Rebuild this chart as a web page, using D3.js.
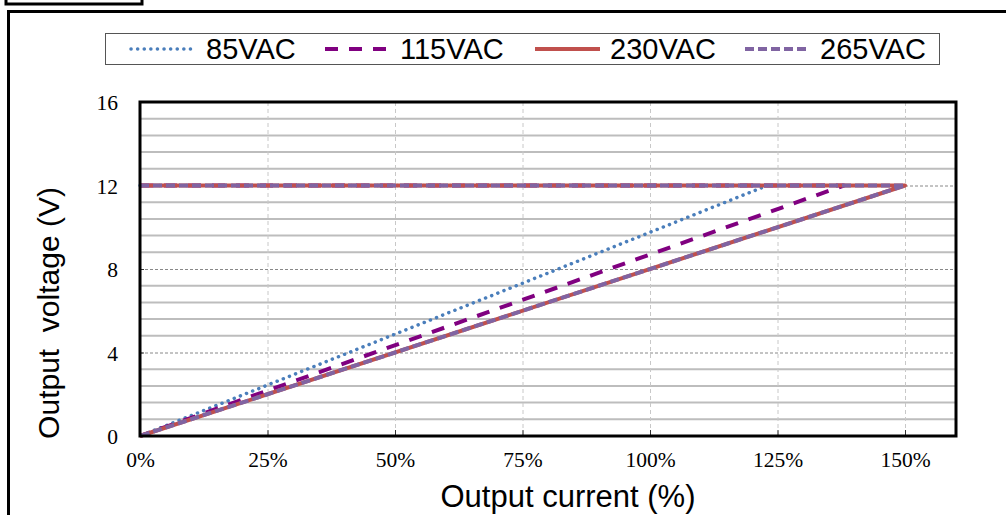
<!DOCTYPE html>
<html><head><meta charset="utf-8">
<script src="https://cdn.jsdelivr.net/npm/d3@7"></script>
<style>body{margin:0;background:#fff}svg{display:block}</style>
</head><body>
<svg id="c" width="1006" height="515"></svg>
<script>
// ---- data ----
const seriesNames = ["85VAC", "115VAC", "230VAC", "265VAC"];
// each curve: constant-voltage line at 12V, then foldback line down to (0%,0V)
const s85  = [[0, 12], [123, 12], [0, 0]];
const s115 = [[0, 12], [138, 12], [0, 0]];
const s230 = [[0, 12], [150, 12], [0, 0]];
const s265 = [[0, 12], [150, 12], [0, 0]];
const xTicks = [0, 25, 50, 75, 100, 125, 150];
const yTicks = [0, 4, 8, 12, 16];
const yMinor = [0.8, 1.6, 2.4, 3.2, 4.8, 5.6, 6.4, 7.2, 8.8, 9.6, 10.4, 11.2, 12.8, 13.6, 14.4, 15.2];

const series = [
  {name: seriesNames[0], data: s85,  color: "#4a7ebb", dash: "0.1 6.5", width: 3.5, cap: "round"},
  {name: seriesNames[1], data: s115, color: "#800080", dash: "13 11", width: 4, cap: "butt"},
  {name: seriesNames[2], data: s230, color: "#c0504d", dash: null, width: 4, cap: "butt"},
  {name: seriesNames[3], data: s265, color: "#8064a2", dash: "9 4", width: 4, cap: "butt"}
];

const svg = d3.select("#c");
// outer frames
svg.append("rect").attr("x", 6).attr("y", -10).attr("width", 136).attr("height", 14)
  .attr("fill", "none").attr("stroke", "#000").attr("stroke-width", 3);
svg.append("path").attr("d", "M8.5,520 V11.5 H1010").attr("fill", "none")
  .attr("stroke", "#000").attr("stroke-width", 3);

const L = 140, R = 956, T = 102, B = 436;
const x = d3.scaleLinear().domain([0, 160]).range([L, L + 160 * 5.1]);
const y = d3.scaleLinear().domain([0, 16]).range([B, T]);

const g = svg.append("g");
// minor gridlines
g.selectAll("line.minor").data(yMinor).join("line")
  .attr("x1", L).attr("x2", R).attr("y1", d => y(d)).attr("y2", d => y(d))
  .attr("stroke", "#bdbdbd").attr("stroke-width", 2);
// major horizontal gridlines
g.selectAll("line.maj").data(yTicks.slice(1, 4)).join("line")
  .attr("x1", L).attr("x2", R).attr("y1", d => y(d) + 0.5).attr("y2", d => y(d) + 0.5)
  .attr("stroke", "#888").attr("stroke-width", 1).attr("stroke-dasharray", "3 2");
// vertical gridlines
g.selectAll("line.v").data(xTicks.slice(1)).join("line")
  .attr("x1", d => x(d) + 0.5).attr("x2", d => x(d) + 0.5).attr("y1", T).attr("y2", B)
  .attr("stroke", "#c8c8c8").attr("stroke-width", 1).attr("stroke-dasharray", "4 3");

// axes
const xAxis = d3.axisBottom(x).tickValues(xTicks).tickFormat(d => d + "%").tickSizeInner(-6).tickSizeOuter(0).tickPadding(16);
const yAxis = d3.axisLeft(y).tickValues(yTicks).tickFormat(d3.format("d")).tickSizeInner(-4).tickSizeOuter(0).tickPadding(22);
const gx = svg.append("g").attr("transform", `translate(0,${B})`).call(xAxis);
const gy = svg.append("g").attr("transform", `translate(${L},0)`).call(yAxis);
[gx, gy].forEach(a => {
  a.select(".domain").remove();
  a.selectAll(".tick line").attr("stroke", "#333").attr("stroke-width", 1);
  a.selectAll("text").attr("font-family", "Liberation Serif, serif").attr("font-size", 21.5).attr("fill", "#000");
});
gy.selectAll("text").attr("dy", "0.35em");

// series (drawn in legend order, 265VAC on top)
const line = d3.line().x(d => x(d[0])).y(d => y(d[1]));
svg.append("g").selectAll("path").data(series).join("path")
  .attr("d", d => line(d.data)).attr("fill", "none")
  .attr("stroke", d => d.color).attr("stroke-width", d => d.width)
  .attr("stroke-dasharray", d => d.dash).attr("stroke-linecap", d => d.cap)
  .attr("stroke-linejoin", "round");

// plot frame
svg.append("rect").attr("x", L).attr("y", T).attr("width", R - L).attr("height", B - T)
  .attr("fill", "none").attr("stroke", "#000").attr("stroke-width", 3);

// legend
svg.append("rect").attr("x", 105.5).attr("y", 33.5).attr("width", 834).attr("height", 31)
  .attr("fill", "#fff").attr("stroke", "#555").attr("stroke-width", 1);
const legX = [131, 325, 535, 745];
const lg = svg.append("g").selectAll("g").data(series).join("g")
  .attr("transform", (d, i) => `translate(${legX[i]},49)`);
lg.append("line").attr("x1", 0).attr("x2", 65).attr("y1", 0).attr("y2", 0)
  .attr("stroke", d => d.color).attr("stroke-width", d => d.width)
  .attr("stroke-dasharray", d => d.dash).attr("stroke-linecap", d => d.cap);
lg.append("text").attr("x", 75).attr("y", 0).attr("dy", "0.36em")
  .attr("font-family", "Liberation Sans, Arial, sans-serif").attr("font-size", 29)
  .text(d => d.name);

// axis titles
svg.append("text").attr("x", 568).attr("y", 507).attr("text-anchor", "middle")
  .attr("font-family", "Liberation Sans, Arial, sans-serif").attr("font-size", 31)
  .text("Output current (%)");
svg.append("text").attr("transform", "translate(59,313) rotate(-90)").attr("text-anchor", "middle")
  .attr("font-family", "Liberation Sans, Arial, sans-serif").attr("font-size", 30)
  .attr("xml:space", "preserve").style("white-space", "pre")
  .text("Output  voltage (V)");
</script>
</body></html>
